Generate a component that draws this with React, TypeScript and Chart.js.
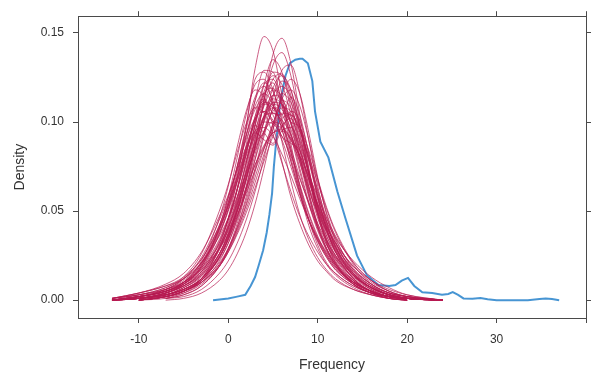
import React, { useEffect, useRef } from "react";
import { Chart, registerables } from "chart.js";

Chart.register(...registerables);

// Observed (blue) density curve
const OBS_X = [-1.7, 0, 1, 1.9, 2.5, 3.0, 3.4, 3.9, 4.3, 4.6, 4.9, 5.1, 5.3, 5.8, 6.4, 6.9, 7.5, 8.0, 8.3, 8.9, 9.4, 9.7, 10.3, 11.2, 12.2, 13.1, 14.4, 15.5, 16.8, 18.0, 18.7, 19.4, 20.1, 20.8, 21.7, 22.8, 23.9, 24.6, 25.1, 25.7, 26.3, 27.3, 28.2, 29.0, 30.0, 33.5, 34.8, 35.5, 36.2, 37.0];
const OBS_Y = [0.000, 0.001, 0.002, 0.003, 0.008, 0.013, 0.0195, 0.028, 0.038, 0.048, 0.060, 0.075, 0.086, 0.111, 0.126, 0.133, 0.135, 0.1355, 0.1355, 0.133, 0.123, 0.106, 0.089, 0.080, 0.061, 0.046, 0.025, 0.014, 0.0085, 0.008, 0.0085, 0.011, 0.0125, 0.008, 0.0045, 0.004, 0.003, 0.0035, 0.0045, 0.003, 0.001, 0.0008, 0.0012, 0.0005, 0.000, 0.000, 0.0006, 0.0010, 0.0006, 0.000];

// Imputed (red) density curves, sampled on a shared grid
const IMP_X = [-13, -10, -7, -5, -3, -1, 0, 1, 2, 3, 4, 5, 6, 7, 8, 9, 10, 11, 12, 14, 16, 18, 20, 24];
const IMPUTED: (number | null)[][] = [
  [null, 0.000, 0.002, 0.005, 0.012, 0.030, 0.046, 0.068, 0.097, 0.130, 0.148, 0.140, 0.115, 0.088, 0.064, 0.045, 0.031, 0.021, 0.015, 0.008, 0.004, 0.002, 0.000, null],
  [null, null, 0.001, 0.004, 0.010, 0.022, 0.032, 0.046, 0.064, 0.086, 0.112, 0.138, 0.147, 0.133, 0.104, 0.074, 0.050, 0.033, 0.022, 0.010, 0.004, 0.001, 0.000, null],
  [0.000, 0.001, 0.003, 0.006, 0.012, 0.026, 0.038, 0.054, 0.074, 0.098, 0.121, 0.135, 0.128, 0.108, 0.084, 0.061, 0.042, 0.029, 0.020, 0.010, 0.005, 0.002, 0.001, 0.000],
  [0.000, 0.002, 0.005, 0.010, 0.020, 0.040, 0.054, 0.075, 0.098, 0.124, 0.128, 0.118, 0.100, 0.080, 0.062, 0.046, 0.034, 0.025, 0.018, 0.010, 0.005, 0.002, 0.001, 0.000],
  [null, 0.000, 0.002, 0.005, 0.010, 0.020, 0.029, 0.041, 0.056, 0.074, 0.094, 0.114, 0.129, 0.132, 0.116, 0.090, 0.064, 0.044, 0.030, 0.013, 0.006, 0.002, 0.001, null],
  [0.000, 0.001, 0.004, 0.008, 0.016, 0.032, 0.045, 0.062, 0.082, 0.103, 0.121, 0.124, 0.112, 0.094, 0.074, 0.055, 0.040, 0.029, 0.021, 0.011, 0.005, 0.002, 0.001, 0.000],
  [0.000, 0.001, 0.003, 0.006, 0.012, 0.024, 0.034, 0.047, 0.063, 0.082, 0.101, 0.115, 0.120, 0.114, 0.098, 0.078, 0.058, 0.042, 0.030, 0.015, 0.007, 0.003, 0.001, 0.000],
  [0.000, 0.002, 0.005, 0.009, 0.017, 0.033, 0.046, 0.063, 0.084, 0.103, 0.112, 0.105, 0.104, 0.114, 0.104, 0.082, 0.058, 0.040, 0.027, 0.012, 0.005, 0.002, 0.001, 0.000],
  [0.001, 0.003, 0.006, 0.010, 0.018, 0.031, 0.041, 0.054, 0.069, 0.085, 0.100, 0.111, 0.110, 0.100, 0.085, 0.068, 0.052, 0.039, 0.029, 0.016, 0.008, 0.004, 0.002, 0.000],
  [0.000, 0.002, 0.006, 0.011, 0.021, 0.040, 0.053, 0.069, 0.086, 0.101, 0.110, 0.108, 0.099, 0.085, 0.069, 0.054, 0.041, 0.031, 0.023, 0.013, 0.007, 0.003, 0.001, 0.000],
  [null, 0.001, 0.003, 0.006, 0.011, 0.021, 0.029, 0.040, 0.053, 0.069, 0.085, 0.099, 0.108, 0.106, 0.095, 0.079, 0.062, 0.046, 0.034, 0.018, 0.009, 0.004, 0.002, 0.000],
  [null, 0.000, 0.002, 0.005, 0.011, 0.024, 0.035, 0.051, 0.070, 0.091, 0.109, 0.118, 0.114, 0.099, 0.078, 0.058, 0.041, 0.029, 0.020, 0.009, 0.004, 0.002, 0.000, null],
  [0.000, 0.002, 0.005, 0.010, 0.019, 0.037, 0.050, 0.066, 0.083, 0.098, 0.094, 0.088, 0.098, 0.102, 0.090, 0.071, 0.052, 0.038, 0.027, 0.014, 0.007, 0.003, 0.001, 0.000],
  [0.000, 0.001, 0.004, 0.009, 0.018, 0.037, 0.051, 0.070, 0.092, 0.112, 0.122, 0.117, 0.102, 0.083, 0.064, 0.048, 0.035, 0.026, 0.019, 0.010, 0.005, 0.002, 0.001, 0.000],
  [null, 0.000, 0.002, 0.005, 0.010, 0.020, 0.028, 0.039, 0.054, 0.072, 0.092, 0.108, 0.116, 0.111, 0.097, 0.079, 0.060, 0.044, 0.032, 0.016, 0.007, 0.003, 0.001, null],
  [0.000, 0.001, 0.003, 0.007, 0.013, 0.026, 0.037, 0.051, 0.068, 0.087, 0.103, 0.113, 0.110, 0.099, 0.084, 0.068, 0.053, 0.041, 0.032, 0.019, 0.010, 0.005, 0.002, 0.000],
  [null, 0.000, 0.002, 0.005, 0.011, 0.024, 0.034, 0.049, 0.068, 0.090, 0.110, 0.124, 0.127, 0.115, 0.094, 0.070, 0.049, 0.034, 0.023, 0.011, 0.005, 0.002, 0.000, null],
  [0.001, 0.003, 0.007, 0.012, 0.021, 0.036, 0.046, 0.058, 0.071, 0.084, 0.095, 0.100, 0.098, 0.090, 0.078, 0.064, 0.050, 0.039, 0.030, 0.017, 0.009, 0.004, 0.002, 0.000],
  [0.000, 0.002, 0.006, 0.012, 0.024, 0.045, 0.058, 0.074, 0.090, 0.102, 0.106, 0.101, 0.090, 0.075, 0.059, 0.045, 0.034, 0.025, 0.018, 0.010, 0.005, 0.002, 0.001, 0.000],
  [0.000, 0.001, 0.004, 0.008, 0.016, 0.032, 0.045, 0.062, 0.082, 0.101, 0.116, 0.119, 0.109, 0.092, 0.072, 0.054, 0.039, 0.028, 0.020, 0.010, 0.005, 0.002, 0.001, 0.000],
  [null, 0.001, 0.003, 0.006, 0.012, 0.025, 0.036, 0.052, 0.072, 0.088, 0.094, 0.108, 0.123, 0.118, 0.097, 0.072, 0.050, 0.034, 0.024, 0.011, 0.005, 0.002, 0.001, null],
  [0.000, 0.002, 0.005, 0.009, 0.016, 0.029, 0.039, 0.050, 0.063, 0.076, 0.087, 0.094, 0.096, 0.091, 0.081, 0.068, 0.054, 0.041, 0.031, 0.017, 0.009, 0.004, 0.002, 0.000],
  [0.000, 0.001, 0.004, 0.008, 0.014, 0.026, 0.036, 0.050, 0.067, 0.086, 0.104, 0.115, 0.113, 0.100, 0.080, 0.060, 0.043, 0.031, 0.024, 0.014, 0.007, 0.003, 0.001, 0.000],
  [0.000, 0.001, 0.004, 0.008, 0.015, 0.030, 0.042, 0.058, 0.077, 0.095, 0.106, 0.100, 0.097, 0.106, 0.101, 0.083, 0.061, 0.043, 0.030, 0.014, 0.006, 0.003, 0.001, 0.000],
  [0.000, 0.002, 0.005, 0.010, 0.020, 0.040, 0.055, 0.075, 0.096, 0.114, 0.120, 0.112, 0.096, 0.078, 0.060, 0.045, 0.033, 0.024, 0.017, 0.009, 0.004, 0.002, 0.001, 0.000],
  [null, 0.000, 0.002, 0.005, 0.010, 0.019, 0.027, 0.037, 0.049, 0.063, 0.078, 0.092, 0.102, 0.104, 0.097, 0.084, 0.068, 0.052, 0.039, 0.021, 0.011, 0.005, 0.002, 0.000],
  [0.001, 0.004, 0.008, 0.012, 0.021, 0.038, 0.051, 0.067, 0.085, 0.101, 0.111, 0.109, 0.099, 0.083, 0.065, 0.049, 0.036, 0.026, 0.019, 0.010, 0.005, 0.002, 0.001, null],
  [0.000, 0.001, 0.003, 0.007, 0.014, 0.028, 0.040, 0.056, 0.077, 0.099, 0.117, 0.126, 0.121, 0.104, 0.081, 0.059, 0.041, 0.028, 0.019, 0.009, 0.004, 0.002, 0.000, null],
  [0.000, 0.002, 0.006, 0.012, 0.023, 0.042, 0.055, 0.069, 0.084, 0.094, 0.090, 0.087, 0.095, 0.097, 0.087, 0.071, 0.054, 0.040, 0.029, 0.015, 0.007, 0.003, 0.001, 0.000],
  [0.000, 0.001, 0.003, 0.006, 0.012, 0.024, 0.034, 0.047, 0.062, 0.079, 0.095, 0.106, 0.109, 0.103, 0.089, 0.072, 0.056, 0.042, 0.032, 0.019, 0.011, 0.006, 0.003, 0.000],
  [0.000, 0.002, 0.005, 0.010, 0.022, 0.046, 0.064, 0.086, 0.106, 0.118, 0.114, 0.098, 0.078, 0.058, 0.043, 0.031, 0.022, 0.016, 0.011, 0.006, 0.003, 0.001, 0.000, null],
  [null, 0.001, 0.004, 0.009, 0.019, 0.041, 0.058, 0.080, 0.104, 0.121, 0.124, 0.110, 0.089, 0.067, 0.048, 0.034, 0.024, 0.017, 0.012, 0.006, 0.003, 0.001, 0.000, null],
  [null, null, 0.001, 0.002, 0.006, 0.015, 0.022, 0.032, 0.045, 0.061, 0.080, 0.099, 0.113, 0.118, 0.109, 0.090, 0.068, 0.049, 0.035, 0.017, 0.008, 0.003, 0.001, 0.000],
  [null, null, 0.000, 0.001, 0.004, 0.011, 0.017, 0.026, 0.038, 0.054, 0.074, 0.096, 0.115, 0.124, 0.116, 0.094, 0.069, 0.048, 0.033, 0.015, 0.006, 0.002, 0.001, null],
  [0.000, 0.001, 0.003, 0.006, 0.012, 0.026, 0.037, 0.053, 0.072, 0.094, 0.113, 0.128, 0.126, 0.112, 0.088, 0.064, 0.046, 0.034, 0.025, 0.012, 0.005, 0.002, 0.001, 0.000],
  [0.001, 0.004, 0.008, 0.013, 0.023, 0.041, 0.053, 0.067, 0.081, 0.093, 0.100, 0.099, 0.092, 0.081, 0.068, 0.055, 0.043, 0.033, 0.025, 0.014, 0.007, 0.003, 0.001, 0.000],
  [null, 0.000, 0.002, 0.005, 0.011, 0.024, 0.035, 0.050, 0.068, 0.087, 0.102, 0.108, 0.104, 0.093, 0.080, 0.066, 0.054, 0.044, 0.035, 0.022, 0.013, 0.007, 0.003, 0.000],
  [0.000, 0.002, 0.005, 0.010, 0.021, 0.042, 0.057, 0.075, 0.093, 0.107, 0.113, 0.104, 0.092, 0.088, 0.084, 0.068, 0.048, 0.032, 0.021, 0.009, 0.004, 0.001, 0.000, null],
  [null, 0.001, 0.003, 0.006, 0.012, 0.023, 0.032, 0.045, 0.061, 0.076, 0.086, 0.098, 0.112, 0.108, 0.092, 0.072, 0.053, 0.039, 0.028, 0.014, 0.007, 0.003, 0.001, 0.000],
  [null, 0.000, 0.002, 0.005, 0.012, 0.029, 0.043, 0.062, 0.087, 0.112, 0.129, 0.128, 0.110, 0.085, 0.061, 0.042, 0.029, 0.020, 0.014, 0.007, 0.003, 0.001, 0.000, null],
  [0.001, 0.003, 0.006, 0.010, 0.017, 0.029, 0.037, 0.048, 0.060, 0.073, 0.085, 0.094, 0.095, 0.090, 0.081, 0.070, 0.058, 0.046, 0.036, 0.021, 0.011, 0.005, 0.002, 0.000],
  [0.000, 0.003, 0.007, 0.013, 0.026, 0.050, 0.065, 0.083, 0.099, 0.108, 0.105, 0.093, 0.077, 0.061, 0.047, 0.036, 0.027, 0.020, 0.015, 0.008, 0.004, 0.002, 0.001, 0.000],
  [null, null, 0.001, 0.003, 0.008, 0.019, 0.029, 0.043, 0.062, 0.086, 0.112, 0.132, 0.139, 0.126, 0.100, 0.071, 0.048, 0.032, 0.021, 0.009, 0.004, 0.001, 0.000, null],
  [0.000, 0.002, 0.005, 0.009, 0.018, 0.034, 0.046, 0.062, 0.079, 0.092, 0.103, 0.105, 0.101, 0.093, 0.077, 0.062, 0.049, 0.038, 0.028, 0.015, 0.008, 0.003, 0.001, 0.000],
  [null, 0.000, 0.002, 0.004, 0.009, 0.019, 0.027, 0.038, 0.051, 0.066, 0.082, 0.096, 0.105, 0.104, 0.095, 0.081, 0.066, 0.051, 0.038, 0.020, 0.009, 0.004, 0.001, 0.000],
  [0.000, 0.001, 0.004, 0.009, 0.019, 0.039, 0.053, 0.072, 0.092, 0.109, 0.116, 0.110, 0.096, 0.078, 0.060, 0.045, 0.033, 0.024, 0.017, 0.009, 0.004, 0.002, 0.001, null],
  [0.000, 0.001, 0.003, 0.007, 0.014, 0.029, 0.041, 0.057, 0.077, 0.098, 0.115, 0.122, 0.110, 0.100, 0.097, 0.080, 0.058, 0.040, 0.027, 0.012, 0.005, 0.002, 0.001, 0.000],
  [0.001, 0.004, 0.009, 0.015, 0.027, 0.047, 0.059, 0.073, 0.086, 0.095, 0.097, 0.092, 0.082, 0.070, 0.057, 0.045, 0.035, 0.027, 0.020, 0.011, 0.005, 0.002, 0.001, 0.000],
  [null, 0.000, 0.001, 0.003, 0.008, 0.019, 0.028, 0.041, 0.058, 0.079, 0.101, 0.119, 0.126, 0.118, 0.098, 0.074, 0.052, 0.036, 0.025, 0.012, 0.005, 0.002, 0.001, null],
  [0.000, 0.001, 0.004, 0.008, 0.015, 0.029, 0.040, 0.055, 0.072, 0.089, 0.103, 0.110, 0.107, 0.096, 0.080, 0.063, 0.048, 0.036, 0.027, 0.014, 0.007, 0.003, 0.001, 0.000],
];

const X_TICKS = [-10, 0, 10, 20, 30, 40];
const X_LABELS = ["-10", "0", "10", "20", "30", ""];
const Y_TICKS = [0, 0.05, 0.1, 0.15];
const Y_LABELS = ["0.00", "0.05", "0.10", "0.15"];

const FONT = "'Liberation Sans', Arial, sans-serif";
const AXIS = "#4a4a4a";
const TEXT = "#333333";
const BLUE = "rgba(0,108,194,0.72)";
const RED = "rgba(182,26,81,0.7)";

export default function App() {
  const ref = useRef<HTMLCanvasElement | null>(null);

  useEffect(() => {
    document.body.style.margin = "0";
    const canvas = ref.current;
    if (!canvas) return;

    const redSets = IMPUTED.map((row, k) => ({
      label: "imp" + (k + 1),
      data: IMP_X.map((x, i) => ({ x, y: row[i] })).filter((p) => p.y !== null),
      borderColor: RED,
      borderWidth: 1,
      pointRadius: 0,
      fill: false,
      cubicInterpolationMode: "monotone" as const,
      order: 0,
    }));

    const blueSet = {
      label: "observed",
      data: OBS_X.map((x, i) => ({ x, y: OBS_Y[i] })),
      borderColor: BLUE,
      borderWidth: 2,
      pointRadius: 0,
      fill: false,
      tension: 0,
      order: 1,
    };

    const common = () => ({
      grid: { drawOnChartArea: false, drawTicks: true, tickLength: 5, color: AXIS, lineWidth: 1 },
      border: { display: true, color: AXIS, width: 1 },
    });

    const chart = new Chart(canvas, {
      type: "line",
      data: { datasets: [blueSet as any, ...(redSets as any[])] },
      options: {
        responsive: false,
        maintainAspectRatio: false,
        animation: false,
        layout: { padding: 0 },
        plugins: { legend: { display: false }, tooltip: { enabled: false } },
        scales: {
          x: {
            type: "linear",
            position: "bottom",
            min: -16.8,
            max: 40,
            afterBuildTicks: (s: any) => { s.ticks = X_TICKS.map((v) => ({ value: v })); },
            afterFit: (s: any) => { s.height = 56; },
            ticks: {
              autoSkip: false,
              maxRotation: 0,
              padding: 9,
              color: TEXT,
              font: { family: FONT, size: 12 },
              callback: (v: any) => X_LABELS[X_TICKS.indexOf(Number(v))] ?? "",
            },
            title: { display: true, text: "Frequency", color: TEXT, font: { family: FONT, size: 14 }, padding: { top: 0, bottom: 0 } },
            ...common(),
          },
          x2: {
            type: "linear",
            position: "top",
            min: -16.8,
            max: 40,
            afterBuildTicks: (s: any) => { s.ticks = X_TICKS.map((v) => ({ value: v })); },
            afterFit: (s: any) => { s.height = 13; },
            ticks: { autoSkip: false, maxRotation: 0, callback: () => "" },
            ...common(),
          },
          y: {
            type: "linear",
            position: "left",
            min: -0.01,
            max: 0.1594,
            afterBuildTicks: (s: any) => { s.ticks = Y_TICKS.map((v) => ({ value: v })); },
            afterFit: (s: any) => { s.width = 78; },
            ticks: {
              autoSkip: false,
              padding: 9,
              color: TEXT,
              font: { family: FONT, size: 12 },
              callback: (v: any) => {
                const i = Y_TICKS.findIndex((t) => Math.abs(t - Number(v)) < 1e-9);
                return i >= 0 ? Y_LABELS[i] : "";
              },
            },
            title: { display: true, text: "Density", color: TEXT, font: { family: FONT, size: 14 }, padding: { top: 12, bottom: 0 } },
            ...common(),
          },
          y2: {
            type: "linear",
            position: "right",
            min: -0.01,
            max: 0.1594,
            afterBuildTicks: (s: any) => { s.ticks = Y_TICKS.map((v) => ({ value: v })); },
            afterFit: (s: any) => { s.width = 7; },
            ticks: { autoSkip: false, callback: () => "" },
            ...common(),
          },
        },
      } as any,
    });

    return () => chart.destroy();
  }, []);

  return (
    <div style={{ width: 595, height: 374, background: "#ffffff" }}>
      <canvas ref={ref} width={595} height={374} style={{ display: "block", width: 595, height: 374 }} />
    </div>
  );
}
